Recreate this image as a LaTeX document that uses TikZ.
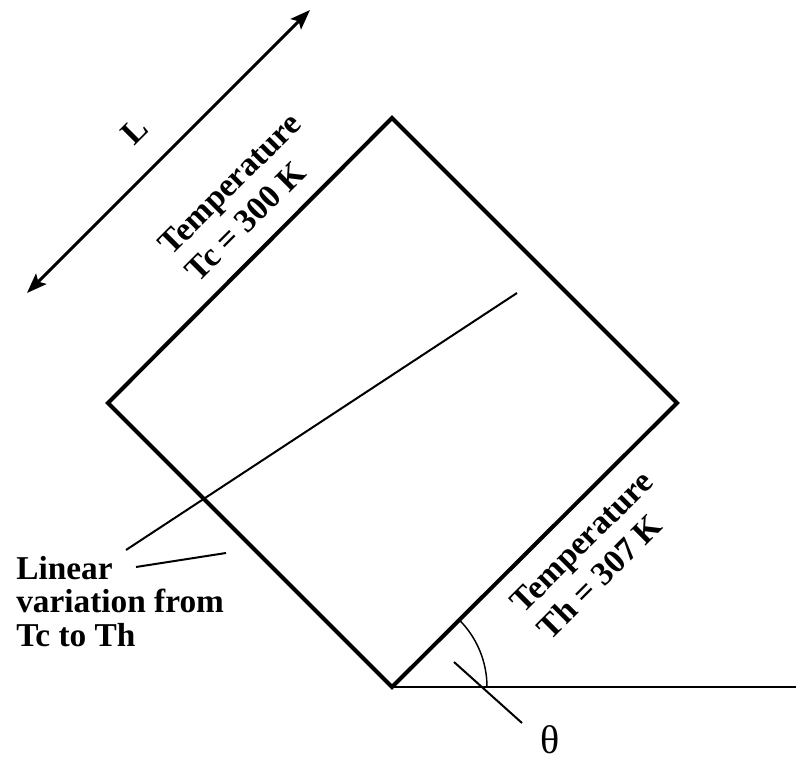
\documentclass[tikz,border=0pt]{standalone}
\usepackage{fontspec}
\setmainfont{Liberation Serif}
\usetikzlibrary{positioning,arrows.meta,calc}
\tikzset{
  cavwall/.style={draw=black, line width=3pt, line join=miter},
  cavline/.style={draw=black, line width=1.5pt},
  cavarc/.style={draw=black, line width=1.1pt},
  cavlbl/.style={font=\fontsize{25}{28.5}\selectfont\bfseries, inner sep=0pt, align=left},
  cavnote/.style={font=\fontsize{25}{25}\selectfont\bfseries, inner sep=0pt, align=left},
  cavdim/.style={<->, >={Stealth[length=15pt,width=11pt,inset=3pt]}, line width=2.2pt},
}

\begin{document}
\begin{tikzpicture}[x=0.75pt,y=-0.75pt]
  \useasboundingbox (0,0) rectangle (796,759);

  % tilted cavity
  \coordinate (bot) at (392,687);
  \coordinate (rgt) at (677,403);
  \coordinate (top) at (392,118);
  \coordinate (lft) at (108,403);
  \coordinate (hend) at (796,687);
  \draw[cavwall] (bot) -- (rgt) -- (top) -- (lft) -- cycle;
  \draw[cavline] (bot) -- (hend);
  \draw[cavarc] ($(bot)+(95,0)$) arc[start angle=0, end angle=-45, radius=95];

  % length arrow
  \coordinate (dimA) at (27,293);
  \coordinate (dimB) at (310,10);
  \draw[cavdim] (dimA) -- (dimB);
  \node[cavlbl, rotate=45] (lenlbl) at (135,131) {L};

  % wall temperatures
  \node[cavlbl, rotate=45] (coldlbl) at (243,197) {Temperature\\Tc = 300 K};
  \node[cavlbl, rotate=45] (hotlbl) at (595,555) {Temperature\\Th = 307 K};

  % linear variation note
  \node[cavnote, anchor=north west] (linlbl) at (16,556) {Linear\\variation from\\Tc to Th};
  \coordinate (linA) at (126,550);
  \coordinate (linB) at (517,293);
  \coordinate (linC) at (136,567);
  \coordinate (linD) at (226,553);
  \draw[cavline] (linA) -- (linB);
  \draw[cavline] (linC) -- (linD);

  % tilt angle
  \node[font=\fontsize{30}{30}\selectfont, inner sep=0pt] (anglbl) at (550,740) {θ};
  \coordinate (angA) at (454,662);
  \coordinate (angB) at (522,723);
  \draw[cavline] (angA) -- (angB);
\end{tikzpicture}
\end{document}
